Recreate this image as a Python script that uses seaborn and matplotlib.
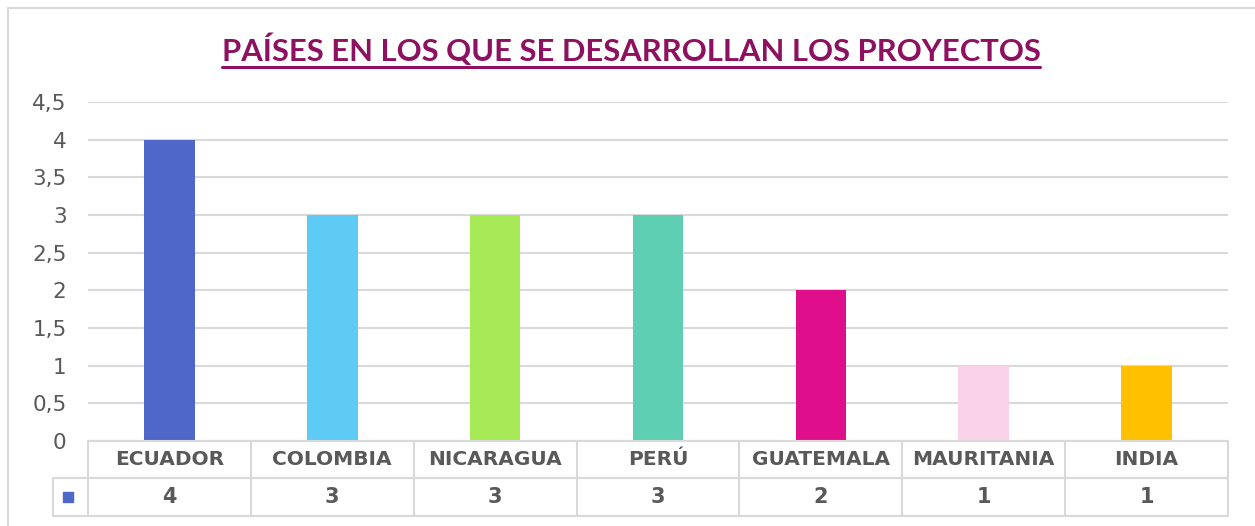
import matplotlib
matplotlib.use("Agg")
import matplotlib.pyplot as plt
import seaborn as sns
import pandas as pd
from matplotlib.patches import Rectangle
from matplotlib.lines import Line2D

# ---- data ----
countries = ["ECUADOR", "COLOMBIA", "NICARAGUA", "PERÚ", "GUATEMALA", "MAURITANIA", "INDIA"]
projects = [4, 3, 3, 3, 2, 1, 1]
bar_colors = ["#4F67C8", "#5DCBF3", "#A8EA55", "#5ECFB3", "#DF0E8B", "#FAD2EA", "#FFC000"]
yticks = [0, 0.5, 1, 1.5, 2, 2.5, 3, 3.5, 4, 4.5]
ytick_labels = ["0", "0,5", "1", "1,5", "2", "2,5", "3", "3,5", "4", "4,5"]
title = "PAÍSES EN LOS QUE SE DESARROLLAN LOS PROYECTOS"

sns.set_theme(style="white")
plt.rcParams['font.family'] = ['DejaVu Sans']

W, H = 1255, 526
fig = plt.figure(figsize=(W / 100, H / 100), dpi=100)
fig.patch.set_facecolor("white")

def fx(px):
    return px / W

def fy(py):
    return 1 - py / H

# outer chart border
fig.patches.append(Rectangle((fx(8), -0.1), 1.2, fy(8) + 0.1, transform=fig.transFigure,
                             fill=False, edgecolor="#D9D9D9", lw=1.5))

ax = fig.add_axes([fx(88), fy(441), fx(1228) - fx(88), fy(102) - fy(441)])
df = pd.DataFrame({"country": countries, "n": projects})
sns.barplot(data=df, x="country", y="n", hue="country", palette=bar_colors, legend=False,
            width=0.31, saturation=1, linewidth=0, edgecolor="none", ax=ax)
ax.set_xlim(-0.5, len(countries) - 0.5)
ax.set_ylim(0, 4.5)
ax.set_yticks(yticks)
ax.set_yticklabels(ytick_labels)
ax.yaxis.grid(True, color="#D9D9D9", lw=1.5)
ax.set_axisbelow(True)
for s in ax.spines.values():
    s.set_visible(False)
ax.set_xticks([])
ax.set_xlabel("")
ax.set_ylabel("")
ax.tick_params(axis="y", length=0, pad=15.5, labelsize=15.5, labelcolor="#595959")

# ---- data table ----
tr = ax.get_xaxis_transform()
ah = 441 - 102
r0, r1, r2 = 0.0, -37 / ah, -75 / ah
xkey = -0.5 - 35 / 163.0
lc = "#D9D9D9"
lw = 1.5
n = len(countries)
for yv, x0 in [(r0, -0.5), (r1, xkey), (r2, xkey)]:
    ax.add_line(Line2D([x0, n - 0.5], [yv, yv], transform=tr, color=lc, lw=lw, clip_on=False))
for i in range(n + 1):
    ax.add_line(Line2D([i - 0.5, i - 0.5], [r0, r2], transform=tr, color=lc, lw=lw, clip_on=False))
ax.add_line(Line2D([xkey, xkey], [r1, r2], transform=tr, color=lc, lw=lw, clip_on=False))

for i, (c, v) in enumerate(zip(countries, projects)):
    ax.text(i, (r0 + r1) / 2, c, transform=tr, ha="center", va="center",
            fontsize=14.5, fontweight="bold", color="#595959")
    ax.text(i, (r1 + r2) / 2, str(v), transform=tr, ha="center", va="center",
            fontsize=15, fontweight="bold", color="#595959")
ax.plot([-0.5 - 20 / 163.0], [(r1 + r2) / 2], marker="s", markersize=7, color=bar_colors[0],
        transform=tr, clip_on=False, linestyle="none")

# ---- title with underline ----
t = fig.text(fx(631), fy(50), title, ha="center", va="center", fontsize=21,
             fontweight="bold", color="#8E1060", family=["Lato", "DejaVu Sans"])
fig.canvas.draw()
bb = t.get_window_extent()
target = 818
t.set_fontsize(21 * target / bb.width)
fig.canvas.draw()
bb = t.get_window_extent()
fig.lines.append(Line2D([bb.x0 / W, bb.x1 / W], [fy(67), fy(67)], transform=fig.transFigure,
                        color="#8E1060", lw=2.2))

fig.savefig("out.png", dpi=100)
